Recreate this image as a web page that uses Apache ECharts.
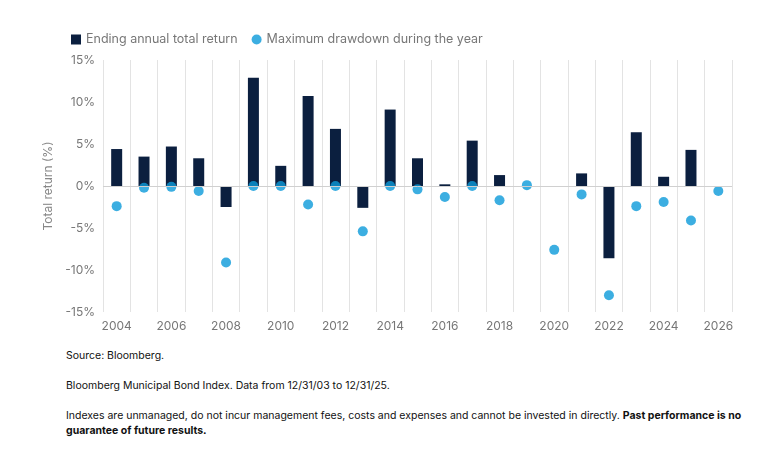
<!DOCTYPE html>
<html>
<head>
<meta charset="utf-8">
<script src="https://cdn.jsdelivr.net/npm/echarts@6/dist/echarts.min.js"></script>
<style>
  body { margin: 0; background: #fff; font-family: Inter, "Noto Sans", sans-serif; }
  #chart { width: 762px; height: 340px; }
  .notes { position: absolute; left: 66px; top: 348px; width: 680px; font-size: 10.5px; color: #111; line-height: 15px; }
  .notes p { margin: 0 0 15px 0; }
</style>
</head>
<body>
<div id="chart"></div>
<div class="notes">
  <p>Source: Bloomberg.</p>
  <p>Bloomberg Municipal Bond Index. Data from 12/31/03 to 12/31/25.</p>
  <p>Indexes are unmanaged, do not incur management fees, costs and expenses and cannot be invested in directly. <b>Past performance is no guarantee of future results.</b></p>
</div>
<script>
// 年份与数值
var years = ["2004","2005","2006","2007","2008","2009","2010","2011","2012","2013","2014","2015",
             "2016","2017","2018","2019","2020","2021","2022","2023","2024","2025","2026"];
var annualReturn = [4.4, 3.5, 4.7, 3.3, -2.5, 12.9, 2.4, 10.7, 6.8, -2.6, 9.1, 3.3,
                    0.2, 5.4, 1.3, null, null, 1.5, -8.6, 6.4, 1.1, 4.3, null];
var maxDrawdown = [-2.4, -0.2, -0.1, -0.6, -9.1, 0, 0, -2.2, 0, -5.4, 0, -0.4,
                   -1.3, 0, -1.7, 0.1, -7.6, -1.0, -13.0, -2.4, -1.9, -4.1, -0.6];

var chart = echarts.init(document.getElementById("chart"));
chart.setOption({
    animation: false,
    textStyle: { fontFamily: "Inter, 'Noto Sans', sans-serif" },
    legend: {
        left: 66, top: 28, itemGap: 14, itemWidth: 10, itemHeight: 10,
        textStyle: { color: "#777", fontSize: 12.5 },
        data: [
            { name: "Ending annual total return", icon: "rect" },
            { name: "Maximum drawdown during the year", icon: "circle" }
        ]
    },
    grid: { left: 103, right: 30, top: 60, bottom: 28 },
    xAxis: {
        type: "category", data: years,
        axisLine: { show: false }, axisTick: { show: false },
        axisLabel: { color: "#777", fontSize: 12, interval: 1 },
        splitLine: { show: true, interval: 0, lineStyle: { color: "#e3e3e3" } }
    },
    yAxis: {
        type: "value", min: -15, max: 15, interval: 5,
        name: "Total return (%)", nameLocation: "middle", nameGap: 44,
        nameTextStyle: { color: "#888", fontSize: 12 },
        axisLabel: { color: "#777", fontSize: 12, formatter: "{value}%" },
        splitLine: { show: false },
        axisLine: { show: false }, axisTick: { show: false }
    },
    series: [
        {
            name: "Ending annual total return", type: "bar", data: annualReturn,
            barWidth: 11, itemStyle: { color: "#0b1f3f" },
            markLine: {
                silent: true, symbol: "none", label: { show: false },
                lineStyle: { color: "#d0d0d0", type: "solid", width: 1 },
                data: [{ yAxis: 0 }]
            }
        },
        {
            name: "Maximum drawdown during the year", type: "scatter", data: maxDrawdown,
            symbolSize: 10, itemStyle: { color: "#0b9ad9" }, z: 3
        }
    ]
});
</script>
</body>
</html>
